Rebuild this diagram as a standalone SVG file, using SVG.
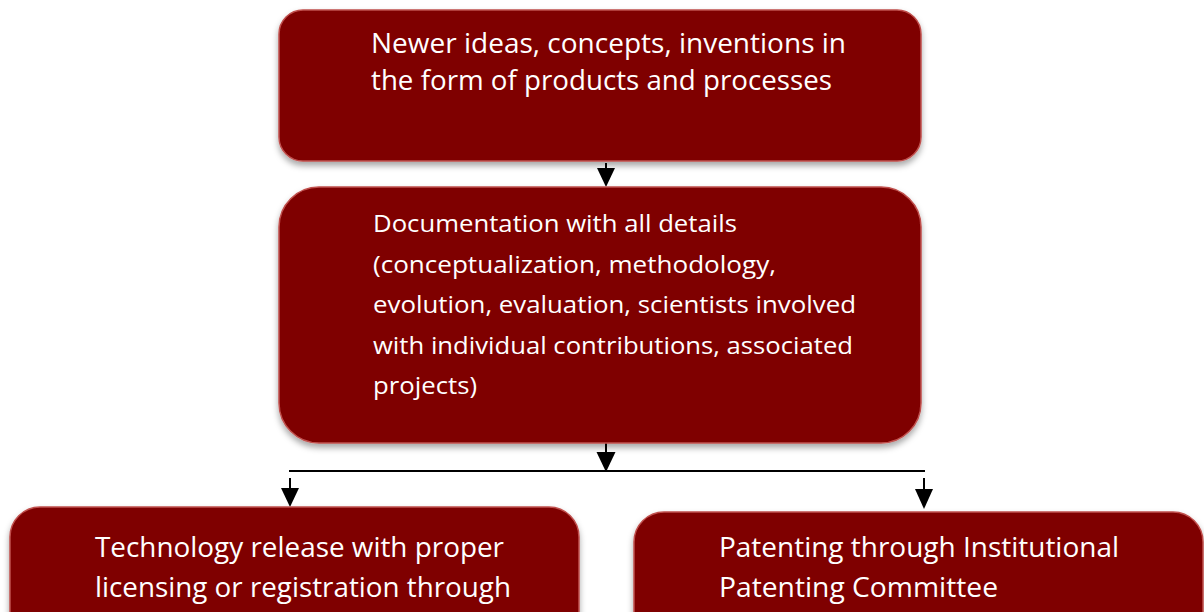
<svg xmlns="http://www.w3.org/2000/svg" width="1204" height="612" viewBox="0 0 1204 612">
<style>
.box{fill:#7f0000;stroke:#c0504d;stroke-width:1.5;filter:url(#sh)}
.t{font-family:"Open Sans","Liberation Sans",sans-serif;fill:#ffffff}
.t1{font-size:27px}
.t2{font-size:23px}
.t3{font-size:28px}
.c{stroke:#000;stroke-width:2;fill:none}
.ah{fill:#000}
</style>
<defs>
<filter id="sh" x="-10%" y="-10%" width="120%" height="130%">
<feDropShadow dx="0" dy="4" stdDeviation="3" flood-color="#000" flood-opacity="0.35"/>
</filter>
</defs>
<rect width="1204" height="612" fill="#ffffff"/>
<g id="connectors">
<line class="c" x1="606" y1="163" x2="606" y2="170"/>
<polygon class="ah" points="597,168 615,168 606,187"/>
<line class="c" x1="606" y1="443" x2="606" y2="454"/>
<polygon class="ah" points="596.5,452 615.5,452 606,472"/>
<line class="c" x1="289" y1="471" x2="925" y2="471"/>
<line class="c" x1="290" y1="478" x2="290" y2="490"/>
<polygon class="ah" points="281,488 299,488 290,507"/>
<line class="c" x1="924" y1="478" x2="924" y2="491"/>
<polygon class="ah" points="915,489 933,489 924,509"/>
</g>
<g id="node1">
<rect class="box" x="279" y="10" width="642" height="151" rx="24" ry="24"/>
<text class="t t1" x="371" y="53" textLength="475" lengthAdjust="spacingAndGlyphs">Newer ideas, concepts, inventions in</text>
<text class="t t1" x="371" y="90" textLength="461" lengthAdjust="spacingAndGlyphs">the form of products and processes</text>
</g>
<g id="node2">
<rect class="box" x="279" y="187" width="642" height="256" rx="40" ry="40"/>
<text class="t t2" x="373" y="232" textLength="364" lengthAdjust="spacingAndGlyphs">Documentation with all details</text>
<text class="t t2" x="373" y="272.5" textLength="403" lengthAdjust="spacingAndGlyphs">(conceptualization, methodology,</text>
<text class="t t2" x="373" y="313" textLength="483" lengthAdjust="spacingAndGlyphs">evolution, evaluation, scientists involved</text>
<text class="t t2" x="373" y="353.5" textLength="480" lengthAdjust="spacingAndGlyphs">with individual contributions, associated</text>
<text class="t t2" x="373" y="394" textLength="104" lengthAdjust="spacingAndGlyphs">projects)</text>
</g>
<g id="node3">
<rect class="box" x="10" y="507" width="569" height="140" rx="30" ry="30"/>
<text class="t t3" x="95" y="557" textLength="409" lengthAdjust="spacingAndGlyphs">Technology release with proper</text>
<text class="t t3" x="95" y="597" textLength="416" lengthAdjust="spacingAndGlyphs">licensing or registration through</text>
</g>
<g id="node4">
<rect class="box" x="634" y="512" width="569" height="140" rx="30" ry="30"/>
<text class="t t3" x="719" y="557" textLength="400" lengthAdjust="spacingAndGlyphs">Patenting through Institutional</text>
<text class="t t3" x="719" y="597" textLength="279" lengthAdjust="spacingAndGlyphs">Patenting Committee</text>
</g>
</svg>
